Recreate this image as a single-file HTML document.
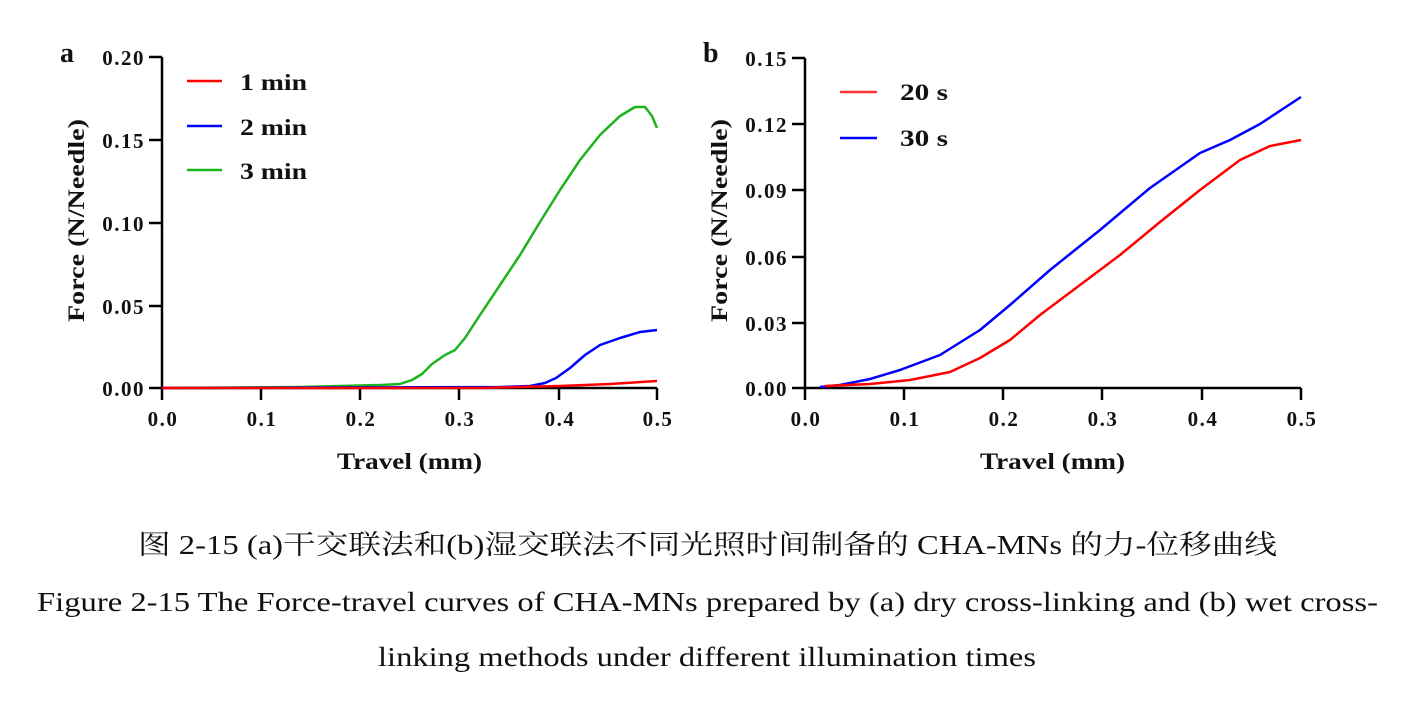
<!DOCTYPE html><html><head><meta charset="utf-8"><style>body{margin:0;background:#fff;width:1407px;height:698px;overflow:hidden}</style></head><body>
<svg width="1407" height="698" xmlns="http://www.w3.org/2000/svg" font-family="Liberation Serif, serif">
<g font-weight="bold" font-size="28" fill="#111">
<text x="60" y="62">a</text>
<text x="703" y="62">b</text>
</g>
<!-- panel a -->
<g stroke="#000" stroke-width="2.5" fill="none">
<path d="M162,57V388H657"/>
<path d="M149,57H162M149,140H162M149,223H162M149,306H162M149,388H162"/>
<path d="M162,388V400M261,388V400M360,388V400M459,388V400M559,388V400M657,388V400"/>
</g>
<g font-weight="bold" font-size="21" letter-spacing="1.5" fill="#111" text-anchor="end">
<text x="145" y="65">0.20</text><text x="145" y="148">0.15</text><text x="145" y="231">0.10</text><text x="145" y="314">0.05</text><text x="145" y="396">0.00</text>
</g>
<g font-weight="bold" font-size="21" letter-spacing="1.5" fill="#111" text-anchor="middle">
<text x="163" y="426">0.0</text><text x="262" y="426">0.1</text><text x="361" y="426">0.2</text><text x="460" y="426">0.3</text><text x="560" y="426">0.4</text><text x="658" y="426">0.5</text>
</g>
<g font-weight="bold" font-size="23" fill="#111">
<text x="337" y="469" textLength="145" lengthAdjust="spacingAndGlyphs">Travel (mm)</text>
<text transform="translate(84,322) rotate(-90)" textLength="203" lengthAdjust="spacingAndGlyphs">Force (N/Needle)</text>
<text x="240" y="90" textLength="67" lengthAdjust="spacingAndGlyphs">1 min</text><text x="240" y="135" textLength="67" lengthAdjust="spacingAndGlyphs">2 min</text><text x="240" y="179" textLength="67" lengthAdjust="spacingAndGlyphs">3 min</text>
</g>
<path d="M187,81H222" stroke="#f00" stroke-width="2.5"/>
<path d="M187,126H222" stroke="#00f" stroke-width="2.5"/>
<path d="M187,170H222" stroke="#1db31d" stroke-width="2.5"/>
<g fill="none" stroke-width="2.5" stroke-linejoin="round">
<polyline stroke="#1db31d" points="162,388 300,387 380,385 400,384 412,380 422,374 432,364 445,355 455,350 465,338 480,315 500,285 520,255 540,222 560,190 580,160 600,135 620,116 635,107 645,107 652,116 657,128"/>
<polyline stroke="#00f" points="162,388 500,387 530,386 545,383 556,378 570,368 585,355 600,345 620,338 640,332 657,330"/>
<polyline stroke="#f00" points="162,388 480,388 560,386 610,384 657,381"/>
</g>
<!-- panel b -->
<g stroke="#000" stroke-width="2.5" fill="none">
<path d="M805,58V388H1301"/>
<path d="M792,58H805M792,124H805M792,190H805M792,257H805M792,323H805M792,388H805"/>
<path d="M805,388V400M904,388V400M1003,388V400M1102,388V400M1202,388V400M1301,388V400"/>
</g>
<g font-weight="bold" font-size="21" letter-spacing="1.5" fill="#111" text-anchor="end">
<text x="788" y="66">0.15</text><text x="788" y="132">0.12</text><text x="788" y="198">0.09</text><text x="788" y="265">0.06</text><text x="788" y="331">0.03</text><text x="788" y="396">0.00</text>
</g>
<g font-weight="bold" font-size="21" letter-spacing="1.5" fill="#111" text-anchor="middle">
<text x="806" y="426">0.0</text><text x="905" y="426">0.1</text><text x="1004" y="426">0.2</text><text x="1103" y="426">0.3</text><text x="1203" y="426">0.4</text><text x="1302" y="426">0.5</text>
</g>
<g font-weight="bold" font-size="23" fill="#111">
<text x="980" y="469" textLength="145" lengthAdjust="spacingAndGlyphs">Travel (mm)</text>
<text transform="translate(727,322) rotate(-90)" textLength="203" lengthAdjust="spacingAndGlyphs">Force (N/Needle)</text>
<text x="900" y="100" textLength="48" lengthAdjust="spacingAndGlyphs">20 s</text><text x="900" y="146" textLength="48" lengthAdjust="spacingAndGlyphs">30 s</text>
</g>
<path d="M840,92H877" stroke="#f33" stroke-width="2.5"/>
<path d="M840,138H877" stroke="#00f" stroke-width="2.5"/>
<g fill="none" stroke-width="2.5" stroke-linejoin="round">
<polyline stroke="#00f" points="820,387 840,385 870,379 900,370 940,355 980,330 1010,305 1050,270 1100,230 1150,188 1200,153 1230,140 1260,124 1301,97"/>
<polyline stroke="#f00" points="825,386 870,384 910,380 950,372 980,358 1010,340 1040,315 1080,285 1120,255 1160,222 1200,190 1240,160 1270,146 1301,140"/>
</g>
<g fill="#111" font-size="27">
<text x="138" y="554" textLength="1139" lengthAdjust="spacingAndGlyphs" font-family="Liberation Serif, Noto Serif CJK SC, serif">图 2-15 (a)干交联法和(b)湿交联法不同光照时间制备的 CHA-MNs 的力-位移曲线</text>
<text x="37" y="611" textLength="1341" lengthAdjust="spacingAndGlyphs">Figure 2-15 The Force-travel curves of CHA-MNs prepared by (a) dry cross-linking and (b) wet cross-</text>
<text x="378" y="666" textLength="658" lengthAdjust="spacingAndGlyphs">linking methods under different illumination times</text>
</g>
</svg>
</body></html>
